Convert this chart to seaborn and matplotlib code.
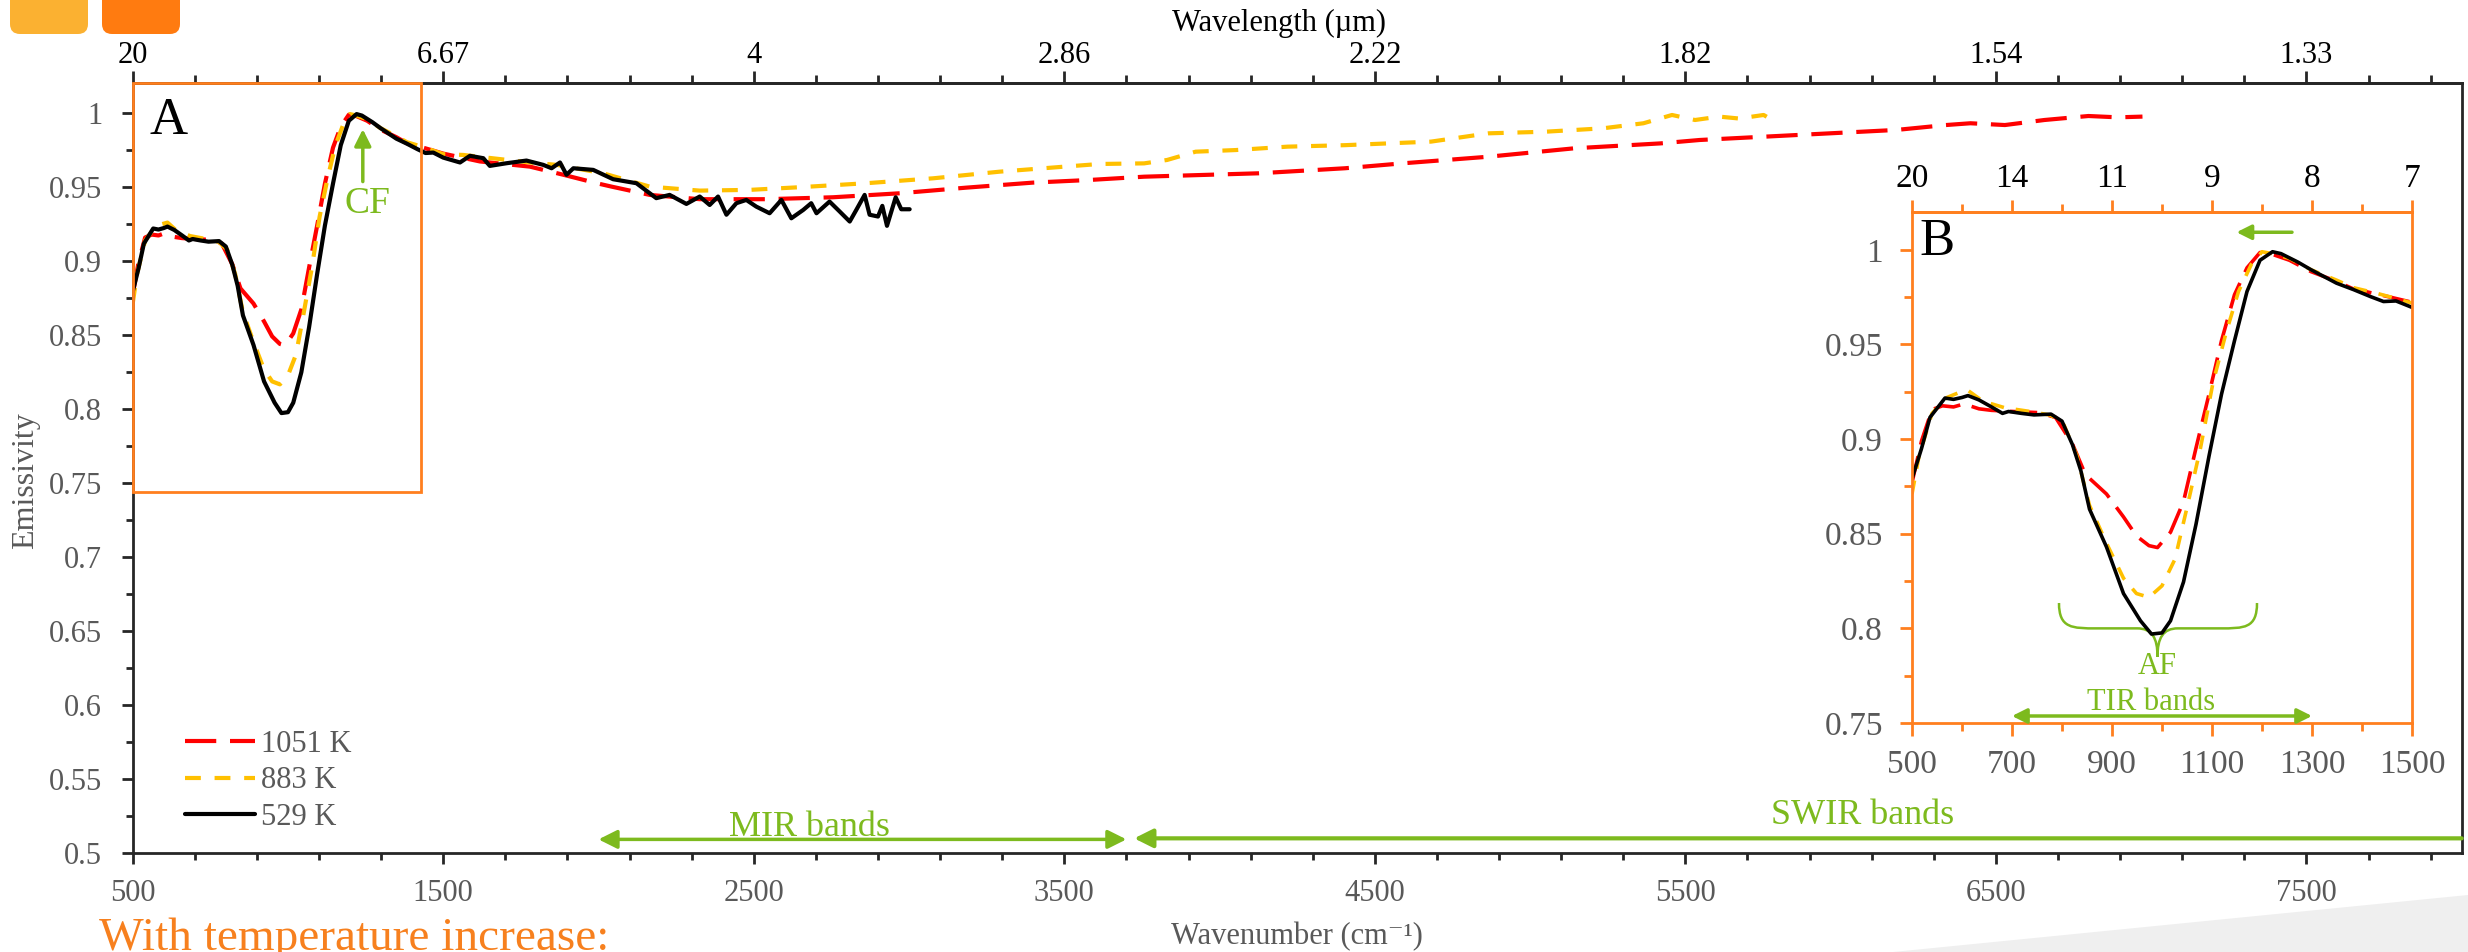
# Emissivity spectra at three temperatures, wavenumber axis with wavelength on top
import numpy as np
import pandas as pd
import seaborn as sns
import matplotlib.pyplot as plt
from matplotlib.patches import Rectangle, FancyBboxPatch, Polygon, PathPatch
from matplotlib.path import Path
from matplotlib.ticker import FixedLocator, FuncFormatter
from matplotlib.transforms import IdentityTransform

# ---- values (wavenumber cm-1, emissivity) ----
wn_1051 = [500, 519, 540, 561, 583, 604, 634, 659, 702, 753, 787, 821, 847, 889, 923, 949, 974,
           991, 1017, 1043, 1068, 1094, 1119, 1145, 1170, 1196, 1221, 1255, 1298, 1349, 1383, 1426,
           1468, 1500, 1618, 1779, 1887, 1994, 2042, 2165, 2326, 2541, 2755, 2970, 3184, 3399,
           3582, 3757, 4126, 4404, 4588, 4866, 5143, 5420, 5546, 5863, 6180, 6339, 6418, 6529,
           6656, 6798, 6893, 6972]
em_1051 = [0.877, 0.899, 0.9156, 0.9176, 0.917, 0.9186, 0.916, 0.9152, 0.9146, 0.914, 0.9115,
           0.8974, 0.8812, 0.871, 0.8589, 0.8488, 0.8437, 0.8427, 0.8508, 0.867, 0.8953, 0.9237,
           0.952, 0.9763, 0.9905, 0.9986, 0.9976, 0.9945, 0.9885, 0.9834, 0.9793, 0.9769, 0.9743,
           0.9723, 0.967, 0.9635, 0.958, 0.9523, 0.950, 0.9444, 0.9415, 0.9415, 0.9428, 0.9455,
           0.9493, 0.9527, 0.9545, 0.9567, 0.959, 0.9624, 0.9657, 0.9702, 0.9759, 0.9792, 0.9815,
           0.9849, 0.9883, 0.9916, 0.9928, 0.9916, 0.995, 0.9977, 0.9968, 0.9973]

wn_883 = [500, 514, 540, 570, 595, 612, 642, 685, 736, 778, 804, 830, 855, 889, 923, 949, 974,
          1000, 1026, 1051, 1077, 1102, 1128, 1153, 1179, 1200, 1221, 1255, 1298, 1349, 1383,
          1426, 1468, 1500, 1565, 1779, 1865, 2015, 2165, 2326, 2487, 2648, 2863, 3077, 3292,
          3507, 3614, 3757, 3831, 3923, 4052, 4219, 4404, 4681, 4866, 5050, 5235, 5365, 5457,
          5531, 5609, 5673, 5752, 5776]
em_883 = [0.871, 0.891, 0.9136, 0.922, 0.9247, 0.9257, 0.920, 0.9166, 0.9146, 0.9126, 0.9075,
          0.891, 0.865, 0.845, 0.8265, 0.8184, 0.8164, 0.8225, 0.8366, 0.865, 0.8953, 0.9298,
          0.956, 0.978, 0.9925, 0.999, 0.998, 0.9955, 0.9895, 0.984, 0.980, 0.9773, 0.9743,
          0.9719, 0.9714, 0.9663, 0.9647, 0.959, 0.950, 0.9473, 0.9478, 0.9496, 0.9523, 0.9556,
          0.9601, 0.9636, 0.9653, 0.9657, 0.968, 0.9736, 0.9747, 0.977, 0.978, 0.9804, 0.986,
          0.9871, 0.9894, 0.9928, 0.9984, 0.995, 0.9973, 0.996, 0.9984, 0.9955]

wn_529 = [500, 519, 536, 566, 583, 600, 612, 634, 659, 681, 693, 719, 744, 778, 800, 821, 838,
          855, 889, 923, 957, 979, 1000, 1017, 1043, 1068, 1094, 1119, 1145, 1170, 1196, 1221,
          1238, 1272, 1298, 1349, 1383, 1417, 1443, 1468, 1500, 1554, 1586, 1629, 1650, 1704,
          1768, 1822, 1849, 1876, 1897, 1919, 1983, 2047, 2122, 2186, 2229, 2283, 2326, 2358,
          2385, 2412, 2444, 2476, 2508, 2551, 2589, 2621, 2659, 2685, 2702, 2744, 2777, 2809,
          2830, 2857, 2873, 2900, 2914, 2929, 2957, 2975, 3002]
em_529 = [0.879, 0.895, 0.9115, 0.9217, 0.921, 0.922, 0.923, 0.9207, 0.917, 0.9136, 0.9146,
          0.9136, 0.9128, 0.9132, 0.9095, 0.897, 0.883, 0.863, 0.843, 0.8184, 0.804, 0.797,
          0.7976, 0.804, 0.8245, 0.855, 0.891, 0.9237, 0.952, 0.978, 0.9945, 0.999, 0.998,
          0.9935, 0.9895, 0.9824, 0.979, 0.9753, 0.9727, 0.973, 0.9696, 0.9663, 0.9708, 0.9692,
          0.964, 0.9658, 0.9676, 0.9647, 0.9624, 0.9663, 0.958, 0.9624, 0.9613, 0.955, 0.9523,
          0.9422, 0.9444, 0.9383, 0.9433, 0.9376, 0.9433, 0.931, 0.9388, 0.941, 0.9365, 0.932,
          0.941, 0.9286, 0.9342, 0.9388, 0.932, 0.9399, 0.9331, 0.9264, 0.9342, 0.9444, 0.931,
          0.9298, 0.937, 0.9235, 0.9428, 0.9347, 0.9347]

temps = ['1051 K', '883 K', '529 K']
top_ticks = [500, 1500, 2500, 3500, 4500, 5500, 6500, 7500]
top_labels = ['20', '6.67', '4', '2.86', '2.22', '1.82', '1.54', '1.33']
inset_ticks = [500, 700, 900, 1100, 1300, 1500]
inset_top_labels = ['20', '14', '11', '9', '8', '7']

df = pd.concat([
    pd.DataFrame({'wn': wn_1051, 'em': em_1051, 'temp': temps[0]}),
    pd.DataFrame({'wn': wn_883, 'em': em_883, 'temp': temps[1]}),
    pd.DataFrame({'wn': wn_529, 'em': em_529, 'temp': temps[2]}),
], ignore_index=True)

palette = {'1051 K': '#ff0000', '883 K': '#ffc000', '529 K': '#000000'}
dashes = {'1051 K': (7.5, 3.3), '883 K': (3.8, 3.3), '529 K': ''}

GRAY = '#595959'
GREEN = '#7dba1e'
ORANGE = '#ff7f1e'

sns.set_style('ticks')
plt.rcParams['font.family'] = ['Liberation Serif', 'DejaVu Serif']

W, H = 2468, 952
fig = plt.figure(figsize=(W / 100, H / 100), dpi=100)

def frac(x0, y_top, x1, y_bot):
    return [x0 / W, (H - y_bot) / H, (x1 - x0) / W, (y_bot - y_top) / H]

# ---- slide decorations ----
fig.patches.append(FancyBboxPatch((10, H - 34), 78, 60, boxstyle='round,pad=0,rounding_size=10',
                                  transform=IdentityTransform(), fc='#fbb131', ec='none', zorder=0))
fig.patches.append(FancyBboxPatch((102, H - 34), 78, 60, boxstyle='round,pad=0,rounding_size=10',
                                  transform=IdentityTransform(), fc='#ff7b10', ec='none', zorder=0))
fig.patches.append(Polygon([(1893, 0), (2468, 57), (2468, 0)], closed=True,
                           transform=IdentityTransform(), fc='#efefef', ec='none', zorder=0))
fig.text(99 / W, 2 / H, 'With temperature increase:', color='#f7801e', fontsize=34,
         ha='left', va='baseline')

# ---- main axes ----
ax = fig.add_axes(frac(132.7, 83, 2461.7, 852.7))
sns.lineplot(data=df, x='wn', y='em', hue='temp', style='temp', hue_order=temps,
             style_order=temps, palette=palette, dashes=dashes, errorbar=None,
             linewidth=3.0, ax=ax)
ax.set_xlim(500, 8000)
ax.set_ylim(0.5, 1.02)
ax.set_xlabel('')
ax.set_ylabel('')
ax.xaxis.set_major_locator(FixedLocator(top_ticks))
ax.xaxis.set_minor_locator(FixedLocator(np.arange(500, 8001, 200)))
ax.yaxis.set_major_locator(FixedLocator(np.arange(0.5, 1.001, 0.05)))
ax.yaxis.set_minor_locator(FixedLocator(np.arange(0.5, 1.02, 0.025)))
ax.yaxis.set_major_formatter(FuncFormatter(lambda v, p: '%g' % round(v, 3)))
ax.tick_params(which='major', length=8, width=2, labelsize=22, labelcolor=GRAY)
ax.tick_params(axis='x', which='major', pad=11)
ax.tick_params(axis='y', which='major', pad=14)
ax.tick_params(which='minor', length=5, width=2)
for s in ax.spines.values():
    s.set_linewidth(2)
    s.set_visible(True)

sec = ax.secondary_xaxis('top', functions=(lambda x: x, lambda x: x))
sec.xaxis.set_major_locator(FixedLocator(top_ticks))
sec.xaxis.set_minor_locator(FixedLocator(np.arange(500, 8001, 200)))
sec.set_xticklabels(top_labels)
sec.tick_params(which='major', length=9, width=2, labelsize=22, labelcolor='black', pad=0)
sec.tick_params(which='minor', length=6, width=2)
sec.spines['top'].set_linewidth(2)

ax.text(0.492, 1.078, 'Wavelength (µm)', transform=ax.transAxes, ha='center', va='center',
        fontsize=22, color='black')
ax.text(0.5, -0.1095, 'Wavenumber (cm⁻¹)', transform=ax.transAxes, ha='center', va='center',
        fontsize=22, color=GRAY)
ax.text(-0.0462, 0.484, 'Emissivity', transform=ax.transAxes, ha='center', va='center',
        rotation=90, fontsize=23, color=GRAY)

sns.move_legend(ax, 'center left', bbox_to_anchor=(0.0225, 0.0932), frameon=False, title=None,
                fontsize=22, labelcolor=GRAY, handlelength=2.3, handletextpad=0.2,
                labelspacing=0.25, borderpad=0, borderaxespad=0)

# zoom box, label and green annotations
ax.add_patch(Rectangle((500, 0.7435), 928, 0.2765, fill=False, ec=ORANGE, lw=2, zorder=5,
                       clip_on=False))
ax.text(614, 0.994, 'A', fontsize=38, ha='center', va='center', color='black')
ax.annotate('', xy=(1241, 0.9888), xytext=(1241, 0.9534),
            arrowprops=dict(arrowstyle='-|>', color=GREEN, lw=2.5, mutation_scale=25,
                            shrinkA=0, shrinkB=0))
ax.text(1255, 0.9383, 'CF', fontsize=27, color=GREEN, ha='center', va='center')
ax.annotate('', xy=(2000, 0.509), xytext=(3700, 0.509),
            arrowprops=dict(arrowstyle='<|-|>', color=GREEN, lw=2.5, mutation_scale=28,
                            shrinkA=0, shrinkB=0))
ax.annotate('', xy=(3725, 0.5097), xytext=(8000, 0.5097),
            arrowprops=dict(arrowstyle='-|>', color=GREEN, lw=3, mutation_scale=28,
                            shrinkA=0, shrinkB=0))
ax.text(2680, 0.517, 'MIR bands', fontsize=26, color=GREEN, ha='center', va='center')
ax.text(6070, 0.525, 'SWIR bands', fontsize=26, color=GREEN, ha='center', va='center')

# ---- inset B ----
axin = fig.add_axes(frac(1912, 212, 2412, 723))
axin.set_zorder(ax.get_zorder() + 2)
sns.lineplot(data=df[df.wn <= 1500], x='wn', y='em', hue='temp', style='temp', hue_order=temps,
             style_order=temps, palette=palette, dashes=dashes, errorbar=None,
             linewidth=2.6, legend=False, ax=axin)
axin.set_xlim(500, 1500)
axin.set_ylim(0.75, 1.02)
axin.set_xlabel('')
axin.set_ylabel('')
axin.xaxis.set_major_locator(FixedLocator(inset_ticks))
axin.xaxis.set_minor_locator(FixedLocator(np.arange(500, 1501, 100)))
axin.yaxis.set_major_locator(FixedLocator(np.arange(0.75, 1.001, 0.05)))
axin.yaxis.set_minor_locator(FixedLocator(np.arange(0.75, 1.02, 0.025)))
axin.yaxis.set_major_formatter(FuncFormatter(lambda v, p: '%g' % round(v, 3)))
axin.tick_params(which='major', length=9, width=2, color=ORANGE, labelsize=24, labelcolor=GRAY)
axin.tick_params(axis='x', which='major', pad=10)
axin.tick_params(axis='y', which='major', pad=12)
axin.tick_params(which='minor', length=6, width=2, color=ORANGE)
for s in axin.spines.values():
    s.set_color(ORANGE)
    s.set_linewidth(2)
    s.set_visible(True)

secin = axin.secondary_xaxis('top', functions=(lambda x: x, lambda x: x))
secin.xaxis.set_major_locator(FixedLocator(inset_ticks))
secin.xaxis.set_minor_locator(FixedLocator(np.arange(500, 1501, 100)))
secin.set_xticklabels(inset_top_labels)
secin.tick_params(which='major', length=9, width=2, color=ORANGE, labelsize=24,
                  labelcolor='black', pad=4)
secin.tick_params(which='minor', length=6, width=2, color=ORANGE)
secin.spines['top'].set_color(ORANGE)
secin.spines['top'].set_linewidth(2)

axin.text(550, 1.004, 'B', fontsize=38, ha='center', va='center', color='black')
axin.annotate('', xy=(1149, 1.0093), xytext=(1260, 1.0093),
              arrowprops=dict(arrowstyle='-|>', color=GREEN, lw=2.5, mutation_scale=22,
                              shrinkA=0, shrinkB=0))
brace = Path([(794, 0.8134), (794, 0.800), (820, 0.800), (870, 0.800),
              (950, 0.800),
              (980, 0.800), (991, 0.795), (991, 0.785),
              (991, 0.795), (1002, 0.800), (1032, 0.800),
              (1115, 0.800),
              (1165, 0.800), (1190, 0.800), (1190, 0.8134)],
             [Path.MOVETO, Path.CURVE4, Path.CURVE4, Path.CURVE4,
              Path.LINETO,
              Path.CURVE4, Path.CURVE4, Path.CURVE4,
              Path.CURVE4, Path.CURVE4, Path.CURVE4,
              Path.LINETO,
              Path.CURVE4, Path.CURVE4, Path.CURVE4])
axin.add_patch(PathPatch(brace, fill=False, ec=GREEN, lw=1.8))
axin.text(991, 0.780, 'AF', fontsize=22, color=GREEN, ha='center', va='center')
axin.text(979, 0.7607, 'TIR bands', fontsize=22, color=GREEN, ha='center', va='center')
axin.annotate('', xy=(700, 0.7537), xytext=(1300, 0.7537),
              arrowprops=dict(arrowstyle='<|-|>', color=GREEN, lw=2.5, mutation_scale=22,
                              shrinkA=0, shrinkB=0))

fig.savefig('out.png', dpi=100)
